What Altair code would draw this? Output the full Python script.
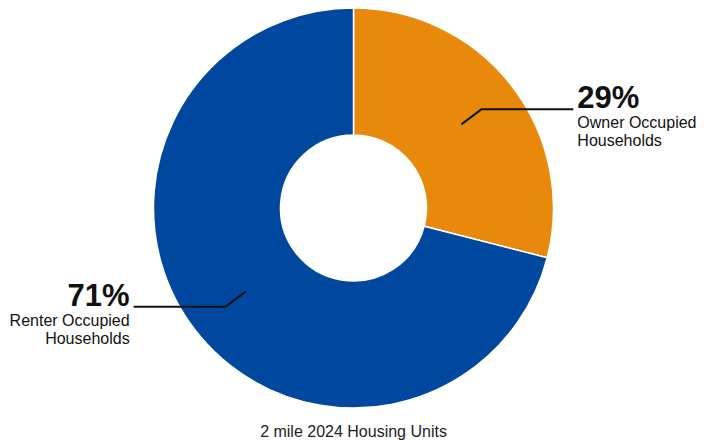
import math
import altair as alt
import pandas as pd

# Data
categories = ["Owner Occupied", "Renter Occupied"]
shares = [29, 71]
pct_labels = ["29%", "71%"]
sub_labels = [["Owner Occupied", "Households"], ["Renter Occupied", "Households"]]
colors = ["#E8890C", "#0047A0"]
title_text = "2 mile 2024 Housing Units"

# Layout (chart coordinates, pixels)
W, H = 688, 432
CX, CY = 345.5, 200
R_OUT, R_IN = 200, 73
R_MID = (R_OUT + R_IN) / 2

arc_df = pd.DataFrame({"cat": categories, "share": shares, "order": [0, 1]})

total = sum(shares)
lines_rows, text_rows = [], []
start = 0.0
for i, (c, s) in enumerate(zip(categories, shares)):
    mid = (start + s / 2) / total * 2 * math.pi
    start += s
    x0 = CX + R_MID * math.sin(mid)
    y0 = CY - R_MID * math.cos(mid)
    side = 1 if math.sin(mid) > 0 else -1
    xe, ye = x0 + side * 20, y0 + (-15 if side > 0 else 15)
    xend = xe + side * 92
    for k, (px, py) in enumerate([(x0, y0), (xe, ye), (xend, ye)]):
        lines_rows.append({"cat": c, "k": k, "x": px, "y": py})
    tx = xend + side * 4 if side > 0 else xend - 4
    align = "left" if side > 0 else "right"
    text_rows.append({"t": pct_labels[i], "x": tx, "y": ye - 1, "size": 31, "w": "bold", "align": align})
    text_rows.append({"t": sub_labels[i][0], "x": tx, "y": ye + 19, "size": 16, "w": "normal", "align": align})
    text_rows.append({"t": sub_labels[i][1], "x": tx, "y": ye + 37, "size": 16, "w": "normal", "align": align})

lines_df = pd.DataFrame(lines_rows)
text_df = pd.DataFrame(text_rows)

arc = alt.Chart(arc_df).mark_arc(
    innerRadius=R_IN, outerRadius=R_OUT, stroke="white", strokeWidth=1.5
).encode(
    theta=alt.Theta("share:Q", stack=True),
    order=alt.Order("order:Q"),
    color=alt.Color("cat:N", scale=alt.Scale(domain=categories, range=colors), legend=None),
    x=alt.value(CX), y=alt.value(CY),
)

leaders = alt.Chart(lines_df).mark_line(color="#111111", strokeWidth=2).encode(
    x=alt.X("x:Q", scale=None), y=alt.Y("y:Q", scale=None),
    detail="cat:N", order="k:Q",
)

layers = []
for align in ["left", "right"]:
    for w in ["bold", "normal"]:
        sub = text_df[(text_df["align"] == align) & (text_df["w"] == w)]
        layers.append(
            alt.Chart(sub).mark_text(
                align=align, baseline="alphabetic", font="Liberation Sans",
                color="#111111", fontWeight=w,
            ).encode(
                x=alt.X("x:Q", scale=None), y=alt.Y("y:Q", scale=None), text="t:N",
                size=alt.Size("size:Q", scale=None, legend=None),
            )
        )

title = alt.Chart(pd.DataFrame({"t": [title_text]})).mark_text(
    align="center", baseline="alphabetic", font="Liberation Sans", fontSize=16, color="#222222"
).encode(text="t:N", x=alt.value(CX), y=alt.value(429))

chart = alt.layer(arc, leaders, *layers, title).properties(
    width=W, height=H, autosize=alt.AutoSizeParams(type="none"), padding=0
).configure_view(stroke=None)

chart.save("out.html", embed_options={"renderer": "svg", "actions": False})
